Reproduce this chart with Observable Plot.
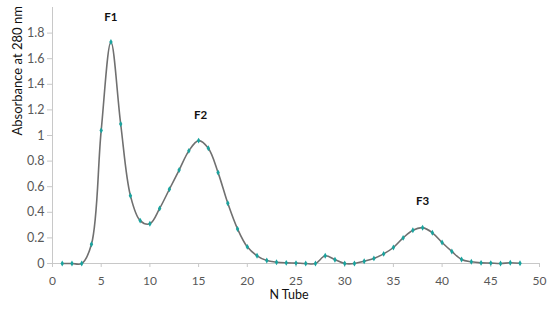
<!DOCTYPE html>
<html>
<head>
<meta charset="utf-8">
<script src="https://cdn.jsdelivr.net/npm/d3@7"></script>
<script src="https://cdn.jsdelivr.net/npm/@observablehq/plot@0.6"></script>
<style>
  html, body { margin: 0; padding: 0; background: #fff; }
  #chart { width: 550px; height: 310px; }
</style>
</head>
<body>
<div id="chart"></div>
<script>
const tubes = d3.range(1, 49);
const absorbance = [
  0, 0, 0, 0.15, 1.04, 1.73, 1.09, 0.53, 0.335, 0.31,
  0.43, 0.58, 0.73, 0.88, 0.96, 0.90, 0.71, 0.47, 0.27, 0.13,
  0.06, 0.023, 0.01, 0.005, 0.003, 0, 0, 0.06, 0.03, 0,
  0, 0.018, 0.04, 0.075, 0.125, 0.20, 0.26, 0.28, 0.24, 0.164,
  0.094, 0.031, 0.013, 0.005, 0.003, 0, 0.006, 0.002
];
const xTicks = [0, 5, 10, 15, 20, 25, 30, 35, 40, 45, 50];
const yTicks = [0, 0.2, 0.4, 0.6, 0.8, 1, 1.2, 1.4, 1.6, 1.8];
const peakLabels = ["F1", "F2", "F3"];
const peakX = [6, 15.2, 38];
const peakY = [1.92, 1.156, 0.484];

const data = tubes.map((t, i) => ({tube: t, abs: absorbance[i]}));
const peaks = peakLabels.map((l, i) => ({label: l, x: peakX[i], y: peakY[i]}));

const chart = Plot.plot({
  width: 550,
  height: 310,
  marginLeft: 52,
  marginRight: 11,
  marginTop: 7,
  marginBottom: 47,
  style: {fontFamily: "Lato, 'Open Sans', sans-serif", fontSize: "11px", color: "#595959", background: "#fff"},
  x: {domain: [0, 50]},
  y: {domain: [0, 2]},
  marks: [
    Plot.ruleX([0], {stroke: "#c8c8c8", strokeWidth: 1}),
    Plot.ruleY([0], {stroke: "#c8c8c8", strokeWidth: 1}),
    Plot.axisX({ticks: xTicks, tickSize: 4, tickPadding: 9, stroke: "#c8c8c8", fill: "#595959", fontSize: 12, label: null, tickFormat: d => d}),
    Plot.axisY({ticks: yTicks, tickSize: 5, tickPadding: 3, stroke: "#c8c8c8", fill: "#595959", fontSize: 12.5, label: null, tickFormat: d => String(d)}),
    Plot.line(data, {x: "tube", y: "abs", curve: "catmull-rom", stroke: "#707070", strokeWidth: 1.6}),
    Plot.dot(data, {x: "tube", y: "abs", r: 1.8, fill: "#1aa39e", stroke: "none", symbol: "diamond"}),
    Plot.text(peaks, {x: "x", y: "y", text: "label", fontWeight: "bold", fontSize: 11.5, fill: "#111"}),
    Plot.text(["N Tube"], {frameAnchor: "bottom", dx: -7, dy: 35, fill: "#111", fontSize: 12.5}),
    Plot.text(["Absorbance at 280 nm"], {frameAnchor: "left", rotate: -90, dx: -35, fill: "#111", fontSize: 13})
  ]
});
document.getElementById("chart").appendChild(chart);
</script>
</body>
</html>
